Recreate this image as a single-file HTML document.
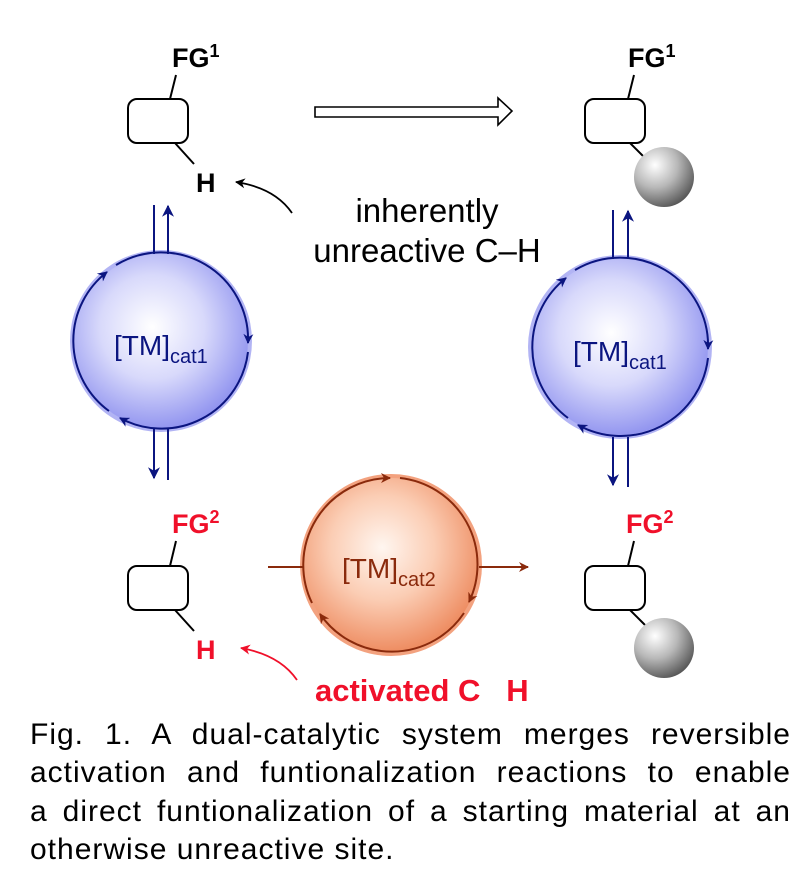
<!DOCTYPE html>
<html><head><meta charset="utf-8"><style>
body{margin:0;background:#fff;width:812px;height:890px;position:relative;overflow:hidden;font-family:"Liberation Sans",sans-serif}
svg{position:absolute;left:0;top:0}
.cap{position:absolute;left:30px;top:716px;width:761px;font-size:30px;letter-spacing:1px;line-height:38.3px;color:#000}
.cap div{text-align:justify;text-align-last:justify;white-space:nowrap}
.cap div.l{text-align-last:left}
</style></head><body>
<svg width="812" height="890" viewBox="0 0 812 890" font-family="Liberation Sans, sans-serif">
<defs>
<radialGradient id="bl" cx="0.45" cy="0.42" r="0.6"><stop offset="0" stop-color="#ffffff"/><stop offset="0.5" stop-color="#d8d9fb"/><stop offset="1" stop-color="#8f92ef"/></radialGradient>
<radialGradient id="or" cx="0.45" cy="0.4" r="0.6"><stop offset="0" stop-color="#fff6f0"/><stop offset="0.5" stop-color="#fbcdb4"/><stop offset="1" stop-color="#ee8d62"/></radialGradient>
<radialGradient id="gr" cx="0.35" cy="0.3" r="0.75"><stop offset="0" stop-color="#ffffff"/><stop offset="0.5" stop-color="#b8b8b8"/><stop offset="1" stop-color="#555"/></radialGradient>
<marker id="mb" viewBox="0 0 10 10" refX="9" refY="5" markerWidth="14" markerHeight="10" orient="auto" markerUnits="userSpaceOnUse"><path d="M0,0 L10,5 L0,10 L3,5z" fill="#0b1580"/></marker>
<marker id="mbv" viewBox="0 0 10 10" refX="9" refY="5" markerWidth="20" markerHeight="12" orient="auto" markerUnits="userSpaceOnUse"><path d="M0,0 L10,5 L0,10 L3,5z" fill="#0b1580"/></marker>
<marker id="mo" viewBox="0 0 10 10" refX="9" refY="5" markerWidth="16" markerHeight="10" orient="auto" markerUnits="userSpaceOnUse"><path d="M0,0 L10,5 L0,10 L3,5z" fill="#8a2a0c"/></marker>
<marker id="mk" viewBox="0 0 10 10" refX="9" refY="5" markerWidth="16" markerHeight="10" orient="auto" markerUnits="userSpaceOnUse"><path d="M0,0 L10,5 L0,10 L3,5z" fill="#000"/></marker>
<marker id="mr" viewBox="0 0 10 10" refX="9" refY="5" markerWidth="16" markerHeight="10" orient="auto" markerUnits="userSpaceOnUse"><path d="M0,0 L10,5 L0,10 L3,5z" fill="#f0102a"/></marker>
</defs>

<text x="172" y="67" font-size="27" font-weight="bold">FG<tspan dy="-10" font-size="18">1</tspan></text>
<line x1="170" y1="99" x2="176" y2="75" stroke="#000" stroke-width="2"/>
<rect x="128" y="99" width="60" height="44" rx="9" fill="#fff" stroke="#000" stroke-width="2"/>
<line x1="175" y1="143" x2="194" y2="164" stroke="#000" stroke-width="2"/>
<text x="196" y="192" font-size="27" font-weight="bold">H</text>

<text x="628" y="67" font-size="27" font-weight="bold">FG<tspan dy="-10" font-size="18">1</tspan></text>
<line x1="628" y1="99" x2="634" y2="75" stroke="#000" stroke-width="2"/>
<rect x="585" y="99" width="60" height="44" rx="9" fill="#fff" stroke="#000" stroke-width="2"/>
<line x1="630" y1="143" x2="645" y2="158" stroke="#000" stroke-width="2"/>
<circle cx="664" cy="177" r="30" fill="url(#gr)"/>

<path d="M315,107 L498,107 L498,98 L512,111 L498,125 L498,117 L315,117 Z" fill="#fff" stroke="#000" stroke-width="1.6"/>

<text x="427" y="222" font-size="33" text-anchor="middle">inherently</text>
<text x="427" y="262" font-size="33" text-anchor="middle">unreactive C–H</text>
<path d="M292,213 Q275,188 236,182" fill="none" stroke="#000" stroke-width="1.8" marker-end="url(#mk)"/>

<circle cx="161" cy="341" r="91" fill="#b2b4f4"/>
<circle cx="161" cy="341" r="87" fill="url(#bl)"/>
<g fill="none" stroke="#0b1580" stroke-width="2">
<path d="M116,265 A87,87 0 0 1 248,343" marker-end="url(#mb)"/>
<path d="M248,352 A87,87 0 0 1 120,418" marker-end="url(#mb)"/>
<path d="M109,411 A87,87 0 0 1 107,272" marker-end="url(#mb)"/>
<line x1="154" y1="205" x2="154" y2="254"/>
<line x1="168" y1="254" x2="168" y2="206" marker-end="url(#mbv)"/>
<line x1="154" y1="428" x2="154" y2="478" marker-end="url(#mbv)"/>
<line x1="168" y1="428" x2="168" y2="480"/>
</g>
<text x="114" y="355" font-size="28" fill="#0b1580">[TM]<tspan font-size="20" dy="8">cat1</tspan></text>

<circle cx="620" cy="347" r="92" fill="#b2b4f4"/>
<circle cx="620" cy="347" r="88" fill="url(#bl)"/>
<g fill="none" stroke="#0b1580" stroke-width="2">
<path d="M575,270 A88,88 0 0 1 708,349" marker-end="url(#mb)"/>
<path d="M708,358 A88,88 0 0 1 578,425" marker-end="url(#mb)"/>
<path d="M568,418 A88,88 0 0 1 566,278" marker-end="url(#mb)"/>
<line x1="613" y1="210" x2="613" y2="259"/>
<line x1="628" y1="259" x2="628" y2="211" marker-end="url(#mbv)"/>
<line x1="613" y1="437" x2="613" y2="485" marker-end="url(#mbv)"/>
<line x1="628" y1="437" x2="628" y2="487"/>
</g>
<text x="573" y="361" font-size="28" fill="#0b1580">[TM]<tspan font-size="20" dy="8">cat1</tspan></text>

<circle cx="391" cy="565" r="91" fill="#f3a27f"/>
<circle cx="391" cy="565" r="87" fill="url(#or)"/>
<g fill="none" stroke="#8a2a0c" stroke-width="2">
<path d="M312,603 A87,87 0 0 1 390,478" marker-end="url(#mo)"/>
<path d="M400,478 A87,87 0 0 1 469,602" marker-end="url(#mo)"/>
<path d="M464,613 A87,87 0 0 1 320,614" marker-end="url(#mo)"/>
<line x1="268" y1="567" x2="303" y2="567"/>
<line x1="479" y1="567" x2="528" y2="567" marker-end="url(#mo)"/>
</g>
<text x="342" y="578" font-size="28" fill="#8a2a0c">[TM]<tspan font-size="20" dy="8">cat2</tspan></text>

<text x="172" y="533" font-size="27" font-weight="bold" fill="#f0102a">FG<tspan dy="-10" font-size="18">2</tspan></text>
<line x1="170" y1="566" x2="176" y2="541" stroke="#000" stroke-width="2"/>
<rect x="128" y="566" width="60" height="44" rx="9" fill="#fff" stroke="#000" stroke-width="2"/>
<line x1="175" y1="610" x2="194" y2="631" stroke="#000" stroke-width="2"/>
<text x="196" y="659" font-size="27" font-weight="bold" fill="#f0102a">H</text>
<path d="M297,680 Q280,655 241,648" fill="none" stroke="#f0102a" stroke-width="1.8" marker-end="url(#mr)"/>
<text x="315" y="701" font-size="31" font-weight="bold" fill="#f0102a" xml:space="preserve">activated C   H</text>

<text x="626" y="533" font-size="27" font-weight="bold" fill="#f0102a">FG<tspan dy="-10" font-size="18">2</tspan></text>
<line x1="628" y1="566" x2="634" y2="541" stroke="#000" stroke-width="2"/>
<rect x="585" y="566" width="60" height="44" rx="9" fill="#fff" stroke="#000" stroke-width="2"/>
<line x1="630" y1="610" x2="645" y2="625" stroke="#000" stroke-width="2"/>
<circle cx="664" cy="648" r="30" fill="url(#gr)"/>
</svg>
<div class="cap">
<div>Fig. 1. A dual-catalytic system merges reversible</div>
<div>activation and funtionalization reactions to enable</div>
<div>a direct funtionalization of a starting material at an</div>
<div class="l">otherwise unreactive site.</div>
</div>
</body></html>
